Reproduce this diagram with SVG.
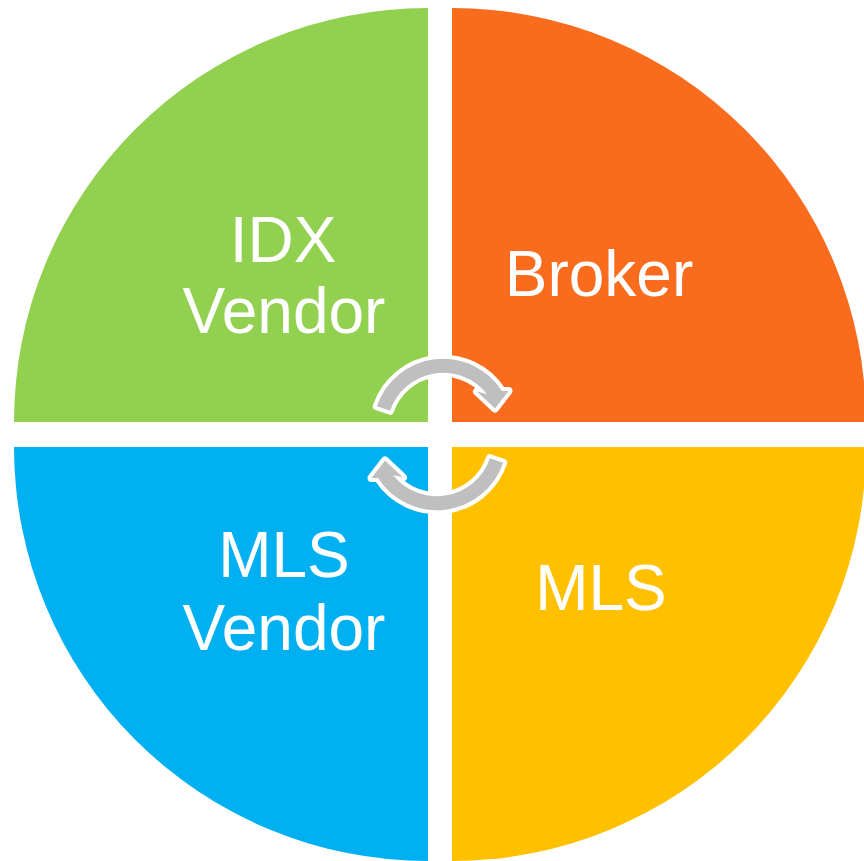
<svg xmlns="http://www.w3.org/2000/svg" width="864" height="861" viewBox="0 0 864 861">
  <style>
    .lbl { font-family: "Liberation Sans", Arial, sans-serif; font-size: 64px; fill: #FFFFFF; text-anchor: middle; }
    .arrow { fill: #BFBFBF; stroke: #FFFFFF; stroke-width: 8; stroke-linejoin: round; paint-order: stroke fill; }
  </style>
  <defs>
    <path id="cyc" class="arrow" d="M 376.8 406.2 A 70 70 0 0 1 502 391 L 508.5 391 L 495 408.5 L 477 391.5 L 487 394 A 56 56 0 0 0 390.1 410.8 Z"/>
  </defs>
  <rect width="864" height="861" fill="#FFFFFF"/>
  <g id="idx-vendor">
    <path d="M 428 422 L 14 422 A 414 414 0 0 1 428 8 Z" fill="#92D050"/>
    <text class="lbl" x="283" y="262">IDX</text>
    <text class="lbl" x="284" y="333">Vendor</text>
  </g>
  <g id="broker">
    <path d="M 452 422 L 452 8 A 414 414 0 0 1 866 422 Z" fill="#F96B1D"/>
    <text class="lbl" x="599" y="296">Broker</text>
  </g>
  <g id="mls-vendor">
    <path d="M 428 447 L 428 861 A 414 414 0 0 1 14 447 Z" fill="#00B0F0"/>
    <text class="lbl" x="284" y="577">MLS</text>
    <text class="lbl" x="284" y="650">Vendor</text>
  </g>
  <g id="mls">
    <path d="M 452 447 L 866 447 A 414 414 0 0 1 452 861 Z" fill="#FFC000"/>
    <text class="lbl" x="601" y="610">MLS</text>
  </g>
  <g id="connectors">
    <use href="#cyc"/>
    <use href="#cyc" transform="rotate(180 440 434.5)"/>
  </g>
</svg>
